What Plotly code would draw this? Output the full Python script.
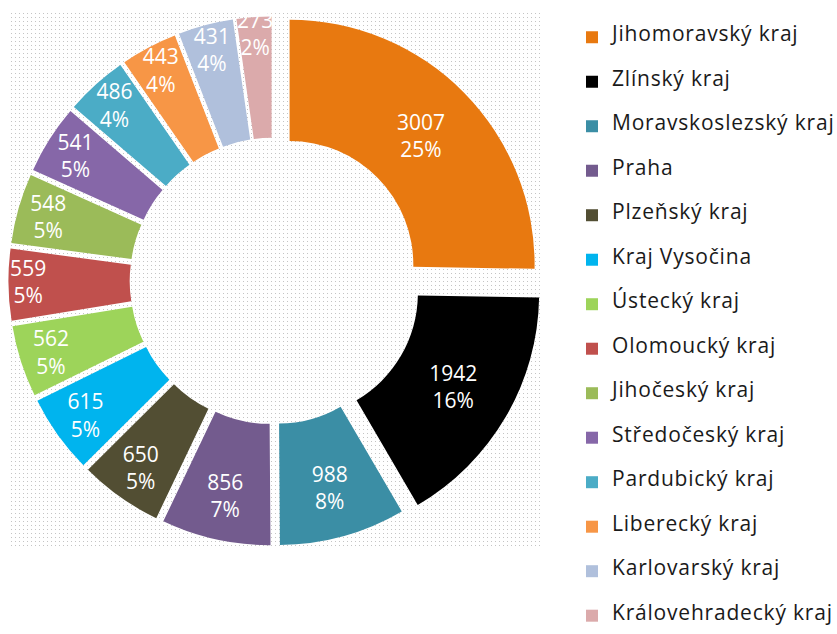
import base64
import plotly.graph_objects as go

# ---- data ----
regions = [
    "Jihomoravský kraj", "Zlínský kraj", "Moravskoslezský kraj", "Praha",
    "Plzeňský kraj", "Kraj Vysočina", "Ústecký kraj", "Olomoucký kraj",
    "Jihočeský kraj", "Středočeský kraj", "Pardubický kraj", "Liberecký kraj",
    "Karlovarský kraj", "Královehradecký kraj",
]
counts = [3007, 1942, 988, 856, 650, 615, 562, 559, 548, 541, 486, 443, 431, 273]

# ---- styles ----
colors = [
    "#E87910", "#000000", "#3B8EA5", "#735B8E", "#524E33", "#00B4EE",
    "#9DD45A", "#C0504D", "#9BBB59", "#8667A8", "#4BACC6", "#F79646",
    "#B0C0DC", "#DBAAAB",
]
pulls = [0.095, 0.1, 0.08, 0.08, 0.08, 0.08, 0.08, 0.08, 0.08, 0.08, 0.08, 0.08, 0.08, 0.08]

W, H = 837, 634
FONT = "Open Sans"

# legend entries: blank line above/below the name to get the wide row spacing
legend_labels = [
    f' <br><span style="font-size:21px;letter-spacing:0.8px">{r}</span><br> '
    for r in regions
]

# dotted background pattern (plot area texture)
bg_w, bg_h = 530, 534
svg = (
    f'<svg xmlns="http://www.w3.org/2000/svg" width="{bg_w}" height="{bg_h}" '
    f'viewBox="0 0 {bg_w} {bg_h}">'
    '<defs><pattern id="d" width="4" height="4" patternUnits="userSpaceOnUse">'
    '<rect x="1" y="1" width="1" height="1" fill="#c4c4c4"/></pattern></defs>'
    f'<rect width="{bg_w}" height="{bg_h}" fill="url(#d)"/></svg>'
)
src = "data:image/svg+xml;base64," + base64.b64encode(svg.encode()).decode()

# pie geometry: center (273, 281) px, outer radius 245 px
R, cx, cy = 245, 273, 281
half = R * (1 + max(pulls))

fig = go.Figure(
    go.Pie(
        labels=legend_labels,
        values=counts,
        sort=False,
        direction="clockwise",
        rotation=0,
        hole=0.505,
        pull=pulls,
        marker=dict(colors=colors, line=dict(width=0)),
        texttemplate="%{value}<br>%{percent:.0%}",
        textposition="inside",
        insidetextorientation="horizontal",
        textfont=dict(family=FONT, size=21, color="white"),
        hoverinfo="value+percent",
        domain=dict(
            x=[(cx - half) / W, (cx + half) / W],
            y=[1 - (cy + half) / H, 1 - (cy - half) / H],
        ),
    )
)

fig.update_layout(
    width=W,
    height=H,
    margin=dict(l=0, r=0, t=0, b=0, autoexpand=False),
    paper_bgcolor="white",
    plot_bgcolor="white",
    uniformtext=dict(minsize=21, mode="show"),
    showlegend=True,
    legend=dict(
        x=572 / W,
        y=1 - 10 / H,
        xanchor="left",
        yanchor="top",
        valign="middle",
        font=dict(family=FONT, size=10.64, color="#1a1a1a"),
        bgcolor="rgba(0,0,0,0)",
    ),
    images=[
        dict(
            source=src,
            xref="paper",
            yref="paper",
            x=10 / W,
            y=1 - 12 / H,
            sizex=bg_w / W,
            sizey=bg_h / H,
            xanchor="left",
            yanchor="top",
            sizing="stretch",
            layer="below",
        )
    ],
)

fig.write_html(
    "out.html",
    config={"displayModeBar": False},
    post_script="document.body.style.margin='0';",
)
